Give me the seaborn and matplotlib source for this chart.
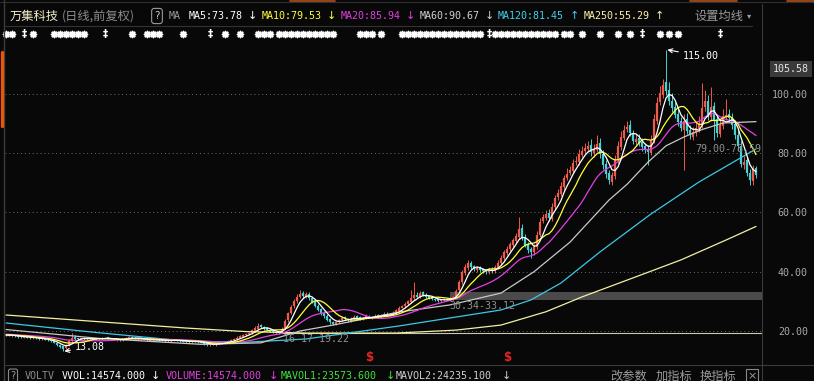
import matplotlib
matplotlib.use("Agg")
import matplotlib.pyplot as plt
import matplotlib.transforms as mtrans
from matplotlib.lines import Line2D
import numpy as np
import pandas as pd
import seaborn as sns

# ---- daily candles (251 sessions, oldest first) ----
opens = [18.8,18.6,18.3,18.5,18.2,18.0,17.8,18.1,17.8,17.5,
         17.7,17.5,17.2,17.4,17.0,16.8,16.5,16.0,15.4,14.8,
         14.1,15.0,16.5,17.9,17.5,17.1,17.6,17.2,17.7,17.4,
         17.1,17.2,17.7,17.4,17.9,17.5,17.3,16.9,17.2,16.8,
         17.1,17.5,18.1,17.8,17.6,17.2,17.4,17.1,16.7,16.8,
         17.2,17.0,16.7,16.9,16.5,16.6,16.8,17.2,16.9,16.7,
         16.3,16.6,16.2,16.7,16.5,16.3,16.1,15.7,15.2,15.6,
         15.3,15.7,16.1,15.8,16.2,16.5,16.8,17.3,17.7,18.1,
         18.5,18.9,19.3,20.1,20.8,21.9,21.5,20.9,20.4,19.9,
         19.3,19.7,19.5,21.0,23.6,26.2,28.4,30.0,31.4,32.9,
         31.6,32.5,31.1,30.0,28.6,27.4,26.2,25.2,24.0,23.1,
         22.3,22.9,23.7,24.6,24.1,23.5,24.1,24.9,24.6,23.9,
         24.2,25.1,24.5,24.7,25.3,24.8,25.3,25.9,25.2,25.5,
         26.1,26.8,27.9,28.3,29.0,29.9,31.0,32.2,31.5,33.0,
         32.3,31.8,31.4,30.9,30.7,30.1,30.3,30.9,30.5,30.9,
         31.5,33.8,36.4,39.6,41.3,43.0,41.8,40.6,41.3,40.8,
         40.4,39.9,40.9,40.2,41.3,42.9,44.6,46.3,47.6,49.0,
         50.4,51.8,54.8,51.7,49.2,47.6,46.5,48.2,52.3,57.2,
         58.2,59.8,57.9,61.8,65.2,66.4,68.5,71.8,73.4,74.0,
         77.2,77.0,79.5,80.9,81.4,82.8,80.0,81.2,83.4,79.8,
         76.5,73.2,70.4,72.2,77.6,82.0,85.2,88.1,89.4,86.5,
         83.8,85.2,83.9,82.3,81.6,80.2,84.2,90.8,97.2,99.8,
         104.0,101.5,97.8,95.6,93.4,90.8,88.0,91.6,87.9,85.6,
         86.9,88.2,89.4,95.6,97.8,92.1,95.8,91.4,86.5,89.2,
         92.2,93.4,92.4,89.8,86.3,82.6,76.0,77.6,73.2,70.5,
         74.9]
closes = [18.6,18.4,18.5,18.2,18.0,17.9,18.1,17.8,17.6,17.7,
          17.5,17.3,17.4,17.0,16.8,16.5,16.0,15.4,14.6,14.0,
          15.2,16.6,17.8,17.4,17.2,17.5,17.3,17.6,17.4,17.2,
          17.3,17.6,17.5,17.8,17.4,17.2,17.0,17.1,16.9,17.2,
          17.6,18.0,17.7,17.5,17.3,17.4,17.0,16.8,16.9,17.1,
          17.0,16.8,16.9,16.6,16.7,16.9,17.1,16.8,16.6,16.4,
          16.5,16.3,16.6,16.4,16.2,16.0,15.6,15.3,15.5,15.4,
          15.8,16.0,15.9,16.3,16.6,16.9,17.4,17.8,18.2,18.6,
          19.0,19.4,20.2,21.0,21.8,21.4,20.8,20.3,19.8,19.5,
          19.6,19.4,20.8,23.5,26.0,28.2,30.1,31.5,32.6,31.8,
          32.4,31.0,29.8,28.5,27.2,26.0,25.0,23.8,22.9,22.4,
          23.0,23.8,24.5,24.0,23.6,24.2,24.8,24.5,24.0,24.3,
          25.0,24.6,24.8,25.2,24.9,25.4,25.8,25.3,25.6,26.2,
          27.0,27.8,28.4,29.2,30.0,31.2,32.0,31.6,32.8,32.2,
          31.6,31.2,30.8,30.5,30.2,30.4,30.8,30.6,31.0,31.4,
          33.5,36.5,39.8,41.5,42.8,41.6,40.8,41.2,40.6,40.2,
          40.0,40.8,40.3,41.5,43.0,44.8,46.5,47.8,49.2,50.6,
          52.0,54.5,51.5,49.0,47.2,46.8,48.5,52.5,56.8,58.4,
          59.5,58.2,62.0,64.8,66.5,68.8,71.5,73.0,74.2,76.8,
          77.5,79.8,80.6,81.8,82.5,80.4,81.6,83.0,79.6,76.2,
          73.0,70.8,72.5,78.2,82.4,85.6,87.8,89.0,86.8,84.2,
          84.8,83.5,82.0,81.2,80.5,84.6,91.5,96.8,100.5,103.2,
          101.0,97.5,95.2,93.0,90.4,88.6,91.0,87.5,86.0,87.2,
          88.5,89.8,95.2,97.6,92.4,95.6,91.0,86.8,89.5,92.6,
          93.0,92.0,89.5,86.0,82.4,76.5,77.2,73.5,70.8,74.6,
          72.8]
highs = [19.0,18.8,18.8,18.7,18.4,18.2,18.3,18.3,18.0,17.9,
         17.9,17.7,17.6,17.5,17.2,17.0,16.7,16.2,15.6,15.0,
         15.6,17.2,19.2,18.6,17.8,17.8,17.9,17.9,18.0,17.6,
         17.5,17.8,17.9,18.1,18.1,17.7,17.5,17.3,17.4,17.4,
         17.9,18.4,18.4,18.0,17.8,17.6,17.6,17.3,17.1,17.3,
         17.4,17.2,17.1,17.1,16.9,17.1,17.3,17.4,17.1,16.9,
         16.7,16.8,16.8,16.9,16.7,16.5,16.3,15.9,15.7,15.8,
         16.0,16.3,16.3,16.5,16.9,17.2,17.8,18.2,18.6,19.0,
         19.4,19.8,20.6,21.6,22.6,22.4,21.8,21.2,20.6,20.2,
         19.9,20.0,21.2,23.9,26.5,28.8,30.8,32.4,33.8,33.6,
         33.2,33.0,31.6,30.5,29.1,27.8,26.6,25.6,24.3,23.5,
         23.4,24.2,25.0,25.1,24.5,24.6,25.5,25.3,24.9,24.7,
         25.6,25.5,25.2,25.6,25.7,25.8,26.4,26.3,26.0,26.7,
         27.5,28.3,28.9,29.8,30.6,34.0,36.4,33.2,33.6,33.5,
         32.8,32.2,31.8,31.3,31.0,30.8,31.2,31.3,31.4,31.9,
         34.2,37.2,40.5,42.6,43.8,43.7,42.4,41.8,41.9,41.3,
         40.9,41.3,41.5,42.2,43.8,45.6,47.3,48.7,50.1,51.5,
         53.2,58.5,56.0,52.6,49.9,48.3,49.3,53.6,58.0,59.6,
         61.0,61.2,63.1,66.0,67.8,70.2,72.8,75.0,75.6,78.2,
         79.0,81.6,82.4,83.5,84.2,84.8,83.2,86.2,85.0,81.0,
         77.6,74.4,73.8,79.5,84.0,87.4,89.6,90.8,91.2,88.0,
         86.4,86.6,85.0,83.4,82.8,86.0,93.4,99.0,102.6,105.2,
         115.0,104.2,100.2,97.4,95.2,92.4,93.2,93.6,89.6,88.8,
         90.4,92.6,103.6,101.5,99.8,102.4,97.4,93.2,91.4,94.8,
         98.4,95.0,93.6,91.2,88.0,84.2,79.0,78.8,74.6,76.0,
         75.8]
lows = [18.4,18.2,18.1,18.0,17.8,17.7,17.6,17.6,17.4,17.3,
        17.3,17.1,17.0,16.8,16.6,16.3,15.8,15.1,14.3,13.08,
        13.9,14.8,16.2,17.1,17.0,16.9,17.1,17.0,17.2,17.0,
        16.9,17.0,17.3,17.2,17.2,17.0,16.8,16.7,16.7,16.6,
        16.9,17.3,17.5,17.3,17.1,17.0,16.8,16.6,16.5,16.6,
        16.8,16.6,16.5,16.4,16.3,16.4,16.6,16.6,16.4,16.2,
        16.1,16.1,16.0,16.2,16.0,15.8,15.4,15.0,14.9,15.2,
        15.1,15.5,15.7,15.6,16.0,16.3,16.6,17.1,17.5,17.9,
        18.3,18.7,19.1,19.8,20.5,21.0,20.4,20.0,19.5,19.2,
        19.0,19.1,19.3,20.7,23.2,25.8,27.9,29.5,31.0,31.2,
        31.0,30.5,29.3,28.0,26.8,25.5,24.5,23.3,22.5,21.9,
        22.0,22.6,23.4,23.7,23.2,23.2,23.8,24.2,23.7,23.6,
        23.9,24.3,24.2,24.4,24.6,24.5,25.0,25.0,24.9,25.2,
        25.8,26.5,27.6,27.9,28.7,29.6,30.6,31.2,31.1,31.8,
        31.2,30.9,30.5,30.2,29.9,29.8,30.0,30.3,30.2,30.6,
        31.2,33.1,35.9,39.0,40.7,41.0,40.2,40.0,40.0,39.6,
        39.4,39.3,39.7,39.6,40.8,42.3,44.0,45.7,47.0,48.4,
        49.8,51.2,50.6,48.2,46.4,44.8,45.8,47.6,51.6,56.4,
        57.4,57.0,57.2,61.0,64.3,65.6,67.6,70.9,72.6,73.2,
        76.2,76.2,78.6,80.0,80.5,79.2,78.8,80.3,78.4,74.8,
        71.8,69.6,69.4,71.4,76.8,81.2,84.4,87.2,85.8,83.2,
        82.8,82.4,80.9,80.0,76.2,79.4,83.4,89.8,96.2,98.6,
        99.6,96.2,94.0,91.8,89.2,87.4,74.3,86.4,84.8,84.4,
        85.8,87.2,88.4,94.4,91.2,91.0,84.5,85.6,85.4,88.2,
        91.2,90.8,88.2,84.8,81.0,75.2,74.8,72.3,69.2,69.4,
        71.8]
# closes of the 19 sessions before the window (for the short averages)
pre_closes = [19.6,19.4,19.5,19.2,19.0,19.3,19.1,18.9,19.0,18.8,
              18.7,18.9,18.6,18.8,18.7,18.5,18.6,18.8,18.7]

# long moving averages (session index, value)
ma60_idx = [0,31,65,85,98,109,131,148,165,176,188,201,207,214,220,226,232,239,250]
ma60_val = [20.5,17.5,15.5,16.0,20.0,22.0,26.4,28.8,32.8,40.0,50.0,64.2,69.5,77.0,82.5,85.5,88.0,90.2,90.67]
ma120_idx = [0,30,60,80,100,131,148,165,175,185,198,215,231,250]
ma120_val = [22.7,19.5,16.6,16.2,17.3,21.7,24.4,27.1,30.5,36.2,46.7,59.5,70.3,81.45]
ma250_idx = [0,30,60,80,100,130,150,165,180,192,210,225,240,250]
ma250_val = [25.4,23.2,21.0,19.8,19.3,19.3,20.3,22.0,26.5,31.5,38.3,44.0,50.7,55.29]

# info-mine markers and signal markers (session index)
star_idx = [0,2,9,16,18,20,22,24,26,42,47,49,51,59,73,78,84,86,88,91,
            93,95,97,99,101,103,105,107,109,118,120,122,125,
            132,134,136,138,140,142,144,146,148,150,152,154,156,158,
            163,165,167,169,171,173,175,177,179,181,183,186,188,
            192,198,204,208,218,221,224]
dagger_idx = [6,33,68,161,212,238]
signal_idx = [121,167]

# drawn price levels
band_start, band_lo, band_hi = 148, 30.34, 33.12
line_start, line_level = 91, 19.22
yticks = [20, 40, 60, 80, 100]

BG = '#080808'
UP, DOWN = '#ee5a4c', '#46d2d2'
W, H = 814, 381
FS = 7.2

sns.set_style('dark', rc={'axes.facecolor': BG, 'figure.facecolor': BG})
plt.rcParams['font.family'] = ['DejaVu Sans', 'Noto Sans CJK SC']
MONO = ['DejaVu Sans Mono', 'DejaVu Sans']
CJK = ['Noto Sans CJK SC', 'DejaVu Sans']

df = pd.DataFrame({'open': opens, 'close': closes, 'high': highs, 'low': lows})
df['idx'] = np.arange(len(df))
allc = pd.Series(pre_closes + closes)
for n in (5, 10, 20):
    df['ma%d' % n] = allc.rolling(n).mean().iloc[len(pre_closes):].values

fig = plt.figure(figsize=(W / 100, H / 100), dpi=100, facecolor=BG)
ax = fig.add_axes([5 / W, 1 - 364 / H, 757 / W, 322 / H])
ax.set_facecolor(BG)


def px(x, y):
    return x / W, 1 - y / H


# candles
up = df['close'] >= df['open']
cols = np.where(up, UP, DOWN)
ax.vlines(df['idx'], df['low'], df['high'], colors=cols, lw=0.7, zorder=3)
ax.vlines(df['idx'], df[['open', 'close']].min(axis=1), df[['open', 'close']].max(axis=1),
          colors=cols, lw=1.6, zorder=3)

# support band and level line
ax.fill_between([band_start, 253], band_lo, band_hi, color='#4a4a4a', lw=0, zorder=1)
ax.hlines(line_level, line_start, 253, colors='#c8c8b4', lw=0.8, zorder=2)

# moving averages
for col, c in (('ma20', '#e040e0'), ('ma10', '#ffff3c'), ('ma5', '#ffffff')):
    sns.lineplot(data=df, x='idx', y=col, ax=ax, color=c, lw=0.9, zorder=5, legend=False)
for xs, ys, c in ((ma250_idx, ma250_val, '#f2f0a0'), (ma120_idx, ma120_val, '#3cc8e6'),
                  (ma60_idx, ma60_val, '#c8c8c8')):
    sns.lineplot(x=xs, y=ys, ax=ax, color=c, lw=0.9, zorder=4, legend=False, estimator=None)

ax.set_xlim(-0.33, 252)
ax.set_ylim(8.86, 117.55)
ax.set_xlabel('')
ax.set_ylabel('')
ax.set_xticks([])
ax.set_yticks(yticks)
ax.set_yticklabels(['%.2f' % v for v in yticks], family=MONO, fontsize=FS, color='#a8a8a8')
ax.yaxis.tick_right()
ax.tick_params(axis='y', length=0, pad=33)
for lbl in ax.get_yticklabels():
    lbl.set_ha('right')
ax.grid(axis='y', color='#6a6a6a', ls=(0, (1, 3)), lw=0.7)
ax.grid(axis='x', visible=False)
for s in ax.spines.values():
    s.set_visible(False)

# annotations
ax.annotate('115.00', xy=(220, 115.0), xytext=(683, H - 56), textcoords='figure pixels',
            color='white', fontsize=FS, family=MONO, ha='left', va='center',
            arrowprops=dict(arrowstyle='->', color='white', lw=0.8, shrinkA=1, shrinkB=1))
ax.annotate('13.08', xy=(19, 13.08), xytext=(75, H - 347), textcoords='figure pixels',
            color='white', fontsize=FS, family=MONO, ha='left', va='center',
            arrowprops=dict(arrowstyle='->', color='white', lw=0.8, shrinkA=1, shrinkB=1))
fig.text(*px(449, 306), '30.34-33.12', color='#909090', fontsize=FS, family=MONO, va='center')
fig.text(*px(283, 339), '16-17 19.22', color='#909090', fontsize=FS, family=MONO, va='center')
fig.text(*px(695, 149), '79.00-78.59', color='#909090', fontsize=FS, family=MONO, va='center')
fig.text(*px(791, 69), '105.58', color='#e6e6e6', fontsize=FS, family=MONO, ha='center', va='center',
         bbox=dict(boxstyle='square,pad=0.3', fc='#3a3a3a', ec='none'))

# marker row and signal marks
tr_top = mtrans.blended_transform_factory(ax.transData, fig.transFigure)
ax.scatter(star_idx, [1 - 34 / H] * len(star_idx), transform=tr_top, marker=(8, 2, 0),
           s=18, color='white', lw=1.2, clip_on=False)
for i in dagger_idx:
    ax.text(i, 1 - 34 / H, '‡', transform=tr_top, color='white', fontsize=7.5,
            ha='center', va='center', fontweight='bold', clip_on=False)
for i in signal_idx:
    ax.text(i, 1 - 357 / H, '$', transform=tr_top, color='#e02424', fontsize=8.5,
            ha='center', va='center', fontweight='bold', clip_on=False)

# header
fig.text(*px(10, 16), '万集科技', color='#f2eec8', fontsize=8.8, family=CJK, va='center')
fig.text(*px(62, 16), '(日线,前复权)', color='#8c8c8c', fontsize=8.8, family=CJK, va='center')
fig.text(*px(157, 16), '?', color='#c8c8c8', fontsize=7.5, ha='center', va='center',
         bbox=dict(boxstyle='round,pad=0.25', fc='none', ec='#9a9a9a', lw=0.8))
fig.text(*px(169, 16), 'MA', color='#9a9a9a', fontsize=FS, family=MONO, va='center')
header = [(189, 252, 'MA5:73.78', '↓', '#ffffff'), (262, 331, 'MA10:79.53', '↓', '#ffff3c'),
          (341, 410, 'MA20:85.94', '↓', '#e040e0'), (420, 489, 'MA60:90.67', '↓', '#d0d0d0'),
          (498, 574, 'MA120:81.45', '↑', '#40d0ea'), (584, 659, 'MA250:55.29', '↑', '#fff2a8')]
for x, xa, t, arr, c in header:
    fig.text(*px(x, 16), t, color=c, fontsize=FS, family=MONO, va='center')
    fig.text(*px(xa, 16), arr, color=c, fontsize=8, ha='center', va='center')
fig.text(*px(694, 16), '设置均线', color='#9a9a9a', fontsize=8.8, family=CJK, va='center')
fig.text(*px(749, 16), '▾', color='#9a9a9a', fontsize=6, ha='center', va='center')

# bottom row
fig.text(*px(13, 376), '?', color='#9a9a9a', fontsize=7, ha='center', va='center',
         bbox=dict(boxstyle='round,pad=0.2', fc='none', ec='#8a8a8a', lw=0.8))
fig.text(*px(25, 376), 'VOLTV', color='#8c8c8c', fontsize=FS, family=MONO, va='center')
bottom = [(62, 155, 'VVOL:14574.000', '#ffffff'), (166, 273, 'VOLUME:14574.000', '#e040e0'),
          (281, 390, 'MAVOL1:23573.600', '#3ee23e'), (396, 506, 'MAVOL2:24235.100', '#d0d0d0')]
for x, xa, t, c in bottom:
    fig.text(*px(x, 376), t, color=c, fontsize=FS, family=MONO, va='center')
    fig.text(*px(xa, 376), '↓', color=c, fontsize=8, ha='center', va='center')
for x, t in ((610, '改参数'), (656, '加指标'), (700, '换指标')):
    fig.text(*px(x, 376), t, color='#9a9a9a', fontsize=8.8, family=CJK, va='center')
fig.text(*px(752, 376), '×', color='#9a9a9a', fontsize=8, ha='center', va='center',
         bbox=dict(boxstyle='square,pad=0.15', fc='none', ec='#8a8a8a', lw=0.8))


# frame lines
def fline(x0, y0, x1, y1, c, lw=0.8):
    fig.add_artist(Line2D([x0 / W, x1 / W], [1 - y0 / H, 1 - y1 / H], color=c, lw=lw))


fline(3.5, 0, 3.5, H, '#3c3c3c', 1.0)
fline(1.5, 52, 1.5, 126, '#e8560e', 2.4)
fline(5, 26, 752, 26, '#333333')
fline(762, 4, 762, H, '#3a3a3a')
fline(5, 365, W, 365, '#3a3a3a')
fline(0, 1.5, W, 1.5, '#303030')
for x0, x1 in ((290, 335), (690, 737), (787, W)):
    fline(x0, 1.2, x1, 1.2, '#b0501c', 1.2)

fig.savefig('out.png', dpi=100, facecolor=BG)
